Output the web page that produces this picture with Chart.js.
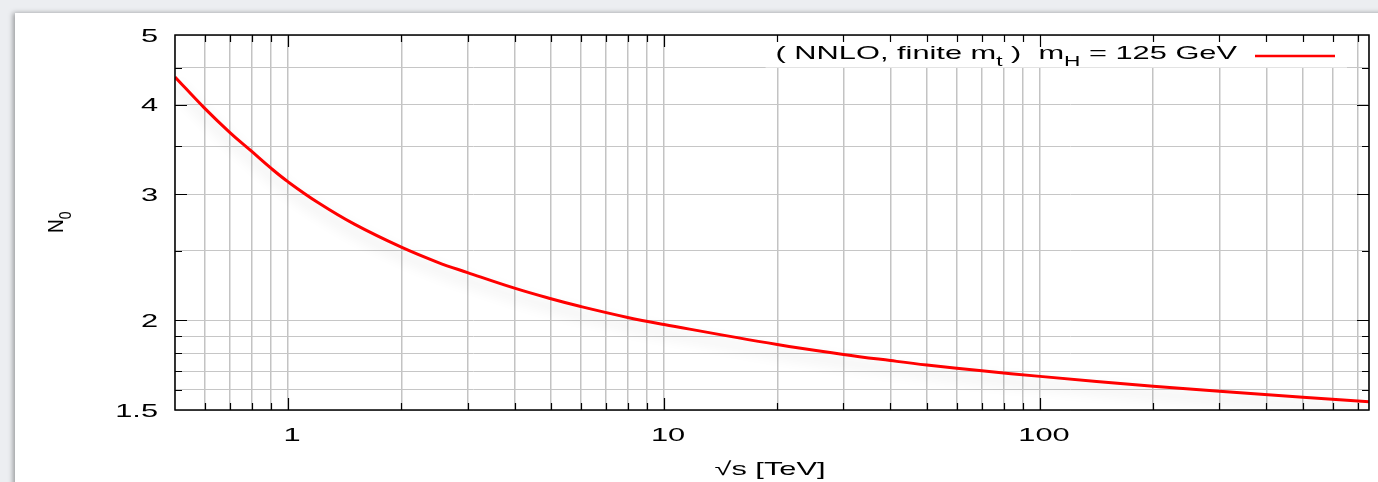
<!DOCTYPE html>
<html>
<head>
<meta charset="utf-8">
<script src="https://cdn.jsdelivr.net/npm/chart.js@4.4.1/dist/chart.umd.min.js"></script>
<style>
  html, body { margin: 0; padding: 0; width: 1378px; height: 482px; overflow: hidden; background: #eceef1; }
  #sheet { position: absolute; left: 15px; top: 13px; width: 1400px; height: 500px; background: #fff;
           box-shadow: -2px 0 5px rgba(0,0,0,0.35); }
  #plot { position: absolute; left: 0; top: 0; }
</style>
</head>
<body>
<div id="sheet"></div>
<canvas id="plot" width="1378" height="482"></canvas>
<script>
// sqrt(s) in TeV and the corresponding N0 values
const sqrtS = [0.5, 0.6, 0.7, 0.8, 0.9, 1, 1.2, 1.5, 2, 2.5, 3, 4, 5, 6, 8, 10, 20, 30, 40, 50, 70, 100, 200, 300, 500, 750];
const n0    = [4.37, 3.95, 3.655, 3.44, 3.26, 3.12, 2.92, 2.724, 2.53, 2.41, 2.332, 2.218, 2.144, 2.091, 2.019, 1.974,
               1.851, 1.793, 1.758, 1.733, 1.701, 1.671, 1.619, 1.593, 1.563, 1.54];

// axis ranges, grid positions and labelled ticks
const xRange = [0.5, 750];
const yRange = [1.5, 5];
const xGrid = [0.5, 0.6, 0.7, 0.8, 0.9, 1, 2, 3, 4, 5, 6, 7, 8, 9, 10, 20, 30, 40, 50, 60, 70, 80, 90, 100, 200, 300, 400, 500, 600, 700, 750];
const yGrid = [1.5, 1.6, 1.7, 1.8, 1.9, 2, 2.5, 3, 3.5, 4, 4.5, 5];
const xLabels = [1, 10, 100];
const yLabels = [1.5, 2, 3, 4, 5];

const seriesLabel = [["( NNLO, finite m", false], ["t", true], [" )  m", false], ["H", true], [" = 125 GeV", false]];
const xTitle = "√s [TeV]";
const yTitle = [["N", false], ["0", true]];

const FONT = '"Liberation Sans", Arial, Helvetica, sans-serif';
const SX = 1.62;          // horizontal stretch of the lettering
const FS = 19;            // main font size
const SUB = 14;           // subscript font size
const SUB_DY = 7;         // subscript drop

function runWidth(ctx, parts) {
  let w = 0;
  for (const [s, sub] of parts) {
    ctx.font = (sub ? SUB : FS) + 'px ' + FONT;
    w += ctx.measureText(s).width;
  }
  return w;
}

// draws text runs (with subscripts) starting at local origin, baseline alphabetic
function drawRuns(ctx, parts) {
  let x = 0;
  ctx.textAlign = 'left';
  ctx.textBaseline = 'alphabetic';
  for (const [s, sub] of parts) {
    ctx.font = (sub ? SUB : FS) + 'px ' + FONT;
    ctx.fillText(s, x, sub ? SUB_DY : 0);
    x += ctx.measureText(s).width;
  }
}

function stretchedText(ctx, str, x, y, align) {
  ctx.save();
  ctx.font = FS + 'px ' + FONT;
  ctx.textBaseline = 'alphabetic';
  ctx.textAlign = align;
  ctx.translate(x, y);
  ctx.scale(SX, 1);
  ctx.fillText(str, 0, 0);
  ctx.restore();
}

const lineShadow = {
  id: 'lineShadow',
  beforeDatasetDraw(chart) {
    const ctx = chart.ctx;
    ctx.save();
    ctx.shadowColor = 'rgba(0,0,0,0.16)';
    ctx.shadowBlur = 14;
    ctx.shadowOffsetY = 8;
  },
  afterDatasetDraw(chart) { chart.ctx.restore(); }
};

const frameAndText = {
  id: 'frameAndText',
  afterDraw(chart) {
    const ctx = chart.ctx;
    const a = chart.chartArea;
    const xs = chart.scales.x, ys = chart.scales.y;

    // key box with the series label and its line sample
    const sampleR = 1335, sampleL = 1255, textR = 1237, keyBase = 59;
    ctx.save();
    const tw = runWidth(ctx, seriesLabel) * SX;
    ctx.fillStyle = '#ffffff';
    ctx.fillRect(textR - tw - 10, a.top + 1, sampleR + 12 - (textR - tw - 10), 67.5 - a.top - 1);
    ctx.fillStyle = '#000';
    ctx.translate(textR - tw, keyBase);
    ctx.scale(SX, 1);
    drawRuns(ctx, seriesLabel);
    ctx.restore();
    ctx.save();
    ctx.strokeStyle = '#ff0000';
    ctx.lineWidth = 2.5;
    ctx.beginPath();
    ctx.moveTo(sampleL, 56);
    ctx.lineTo(sampleR, 56);
    ctx.stroke();
    ctx.restore();

    // frame
    ctx.save();
    ctx.strokeStyle = '#000';
    ctx.lineWidth = 1.5;
    ctx.strokeRect(a.left, a.top, a.right - a.left, a.bottom - a.top);

    // inward tick marks on all four sides
    ctx.lineWidth = 1.2;
    ctx.beginPath();
    for (const v of xGrid) {
      if (v <= xRange[0] || v >= xRange[1]) continue;
      const px = Math.round(xs.getPixelForValue(v)) + 0.5;
      const len = xLabels.includes(v) ? 12 : 7;
      ctx.moveTo(px, a.bottom); ctx.lineTo(px, a.bottom - len);
      ctx.moveTo(px, a.top); ctx.lineTo(px, a.top + len);
    }
    for (const v of yGrid) {
      if (v <= yRange[0] || v >= yRange[1]) continue;
      const py = Math.round(ys.getPixelForValue(v)) + 0.5;
      const len = yLabels.includes(v) ? 12 : 7;
      ctx.moveTo(a.left, py); ctx.lineTo(a.left + len, py);
      ctx.moveTo(a.right, py); ctx.lineTo(a.right - len, py);
    }
    ctx.stroke();
    ctx.restore();

    // tick labels
    ctx.save();
    ctx.fillStyle = '#000';
    for (const v of yLabels) {
      stretchedText(ctx, String(v), 158, ys.getPixelForValue(v) + 6.8, 'right');
    }
    for (const v of xLabels) {
      stretchedText(ctx, String(v), xs.getPixelForValue(v) + 4, 441, 'center');
    }

    // axis titles
    stretchedText(ctx, xTitle, (a.left + a.right) / 2 - 2, 475, 'center');

    ctx.translate(63, 233);
    ctx.scale(1.15, 1);
    ctx.rotate(-Math.PI / 2);
    drawRuns(ctx, yTitle);
    ctx.restore();
  }
};

new Chart(document.getElementById('plot'), {
  type: 'line',
  data: {
    datasets: [{
      data: sqrtS.map((x, i) => ({ x, y: n0[i] })),
      borderColor: '#ff0000',
      borderWidth: 3,
      pointRadius: 0,
      fill: false,
      tension: 0.4
    }]
  },
  options: {
    responsive: false,
    animation: false,
    devicePixelRatio: 1,
    layout: { padding: { left: 0, right: 9, top: 35, bottom: 0 } },
    plugins: { legend: { display: false }, tooltip: { enabled: false } },
    scales: {
      x: {
        type: 'logarithmic',
        min: xRange[0], max: xRange[1],
        afterBuildTicks: s => { s.ticks = xGrid.map(v => ({ value: v })); },
        afterFit: s => { s.height = 72; },
        grid: { color: '#c3c3c3', lineWidth: 1.5, drawTicks: false },
        border: { display: false },
        ticks: { display: false }
      },
      y: {
        type: 'logarithmic',
        min: yRange[0], max: yRange[1],
        afterBuildTicks: s => { s.ticks = yGrid.map(v => ({ value: v })); },
        afterFit: s => { s.width = 175; },
        grid: { color: '#c6c6c6', lineWidth: 1, drawTicks: false },
        border: { display: false },
        ticks: { display: false }
      }
    }
  },
  plugins: [lineShadow, frameAndText]
});
</script>
</body>
</html>
